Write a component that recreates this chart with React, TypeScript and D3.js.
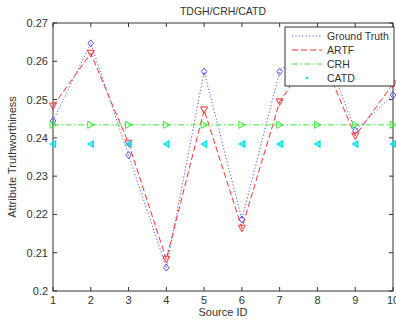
import React from "react";
import * as d3 from "d3";

const sourceIds = [1, 2, 3, 4, 5, 6, 7, 8, 9, 10];
const groundTruth = [0.2444, 0.2647, 0.2355, 0.2061, 0.2573, 0.2187, 0.2573, 0.268, 0.2419, 0.2512];
const artf = [0.2483, 0.2621, 0.2386, 0.2083, 0.2473, 0.2164, 0.2494, 0.264, 0.2405, 0.2541];
const crh = [0.2434, 0.2434, 0.2434, 0.2434, 0.2434, 0.2434, 0.2434, 0.2434, 0.2434, 0.2434];
const catd = [0.2384, 0.2384, 0.2384, 0.2384, 0.2384, 0.2384, 0.2384, 0.2384, 0.2384, 0.2384];
const xTicks = [1, 2, 3, 4, 5, 6, 7, 8, 9, 10];
const yTicks = [0.2, 0.21, 0.22, 0.23, 0.24, 0.25, 0.26, 0.27];
const legendLabels = ["Ground Truth", "ARTF", "CRH", "CATD"];

const W = 396, H = 320;
const L = 53, R = 393, T = 23, B = 291;
const FONT = "'Liberation Sans', Arial, sans-serif";

export default function App() {
  const x = d3.scaleLinear().domain([1, 10]).range([L, R]);
  const y = d3.scaleLinear().domain([0.2, 0.27]).range([B, T]);
  const line = (vals: number[]) =>
    d3.line<number>().x((_, i) => x(sourceIds[i])).y((d) => y(d))(vals) || "";

  const blue = "#5050ff";
  const red = "#ff3030";
  const green = "#33ee33";
  const cyan = "#00e0f0";

  const diamond = (cx: number, cy: number, key: any) => (
    <path key={key} d={`M${cx},${cy - 3.5}L${cx + 2.8},${cy}L${cx},${cy + 3.5}L${cx - 2.8},${cy}Z`} fill="none" stroke={blue} strokeWidth={1} />
  );
  const downTri = (cx: number, cy: number, key: any) => (
    <path key={key} d={`M${cx - 3.5},${cy - 3}L${cx + 3.5},${cy - 3}L${cx},${cy + 3.5}Z`} fill="none" stroke={red} strokeWidth={1} />
  );
  const rightTri = (cx: number, cy: number, key: any) => (
    <path key={key} d={`M${cx - 3},${cy - 3.5}L${cx + 3.5},${cy}L${cx - 3},${cy + 3.5}Z`} fill="none" stroke={green} strokeWidth={1} />
  );
  const leftTri = (cx: number, cy: number, key: any) => (
    <path key={key} d={`M${cx + 2.5},${cy - 3}L${cx - 2.5},${cy}L${cx + 2.5},${cy + 3}Z`} fill={cyan} fillOpacity={0.5} stroke={cyan} strokeWidth={1.4} />
  );

  const lx0 = 285, ly0 = 27, lx1 = 394, ly1 = 86;
  const rowY = [36, 50, 64, 78];

  return (
    <svg width={W} height={H} style={{ display: "block", position: "absolute", left: 0, top: 0 }} fontFamily={FONT}>
      <rect x={0} y={0} width={W} height={H} fill="#fff" />
      {/* ticks */}
      {xTicks.map((t) => (
        <g key={"xt" + t}>
          <line x1={x(t)} x2={x(t)} y1={B} y2={B - 4} stroke="#333" />
          <line x1={x(t)} x2={x(t)} y1={T} y2={T + 4} stroke="#333" />
          <text x={x(t)} y={304} fontSize={11} textAnchor="middle" fill="#333">{t}</text>
        </g>
      ))}
      {yTicks.map((t) => (
        <g key={"yt" + t}>
          <line x1={L} x2={L + 4} y1={y(t)} y2={y(t)} stroke="#333" />
          <line x1={R} x2={R - 4} y1={y(t)} y2={y(t)} stroke="#333" />
          <text x={48} y={y(t) + 4} fontSize={11} textAnchor="end" fill="#333">{d3.format("")(+t.toFixed(2))}</text>
        </g>
      ))}
      <rect x={L} y={T} width={R - L} height={B - T} fill="none" stroke="#333" strokeWidth={1} />

      {/* series */}
      <path d={line(groundTruth)} fill="none" stroke={blue} strokeWidth={1} strokeDasharray="1.2,2.2" />
      <path d={line(artf)} fill="none" stroke={red} strokeWidth={1} strokeDasharray="6,3" />
      <path d={line(crh)} fill="none" stroke={green} strokeWidth={1} strokeDasharray="6,2.5,1.5,2.5" />
      {groundTruth.map((v, i) => diamond(x(sourceIds[i]), y(v), "gd" + i))}
      {artf.map((v, i) => downTri(x(sourceIds[i]), y(v), "ad" + i))}
      {crh.map((v, i) => rightTri(x(sourceIds[i]), y(v), "cd" + i))}
      {catd.map((v, i) => leftTri(x(sourceIds[i]), y(v), "td" + i))}

      {/* legend */}
      <rect x={lx0} y={ly0} width={lx1 - lx0} height={ly1 - ly0} fill="#fff" stroke="#333" strokeWidth={1} />
      <line x1={292} x2={322} y1={rowY[0]} y2={rowY[0]} stroke={blue} strokeDasharray="1.2,2.2" />
      <line x1={292} x2={322} y1={rowY[1]} y2={rowY[1]} stroke={red} strokeDasharray="6,3" />
      <line x1={292} x2={322} y1={rowY[2]} y2={rowY[2]} stroke={green} strokeDasharray="6,2.5,1.5,2.5" />
      <circle cx={307} cy={rowY[3]} r={1.3} fill={cyan} />
      {legendLabels.map((s, i) => (
        <text key={s} x={327} y={rowY[i] + 4} fontSize={10.5} fill="#333">{s}</text>
      ))}

      {/* titles */}
      <text x={(L + R) / 2} y={15} fontSize={10.5} textAnchor="middle" fill="#333">TDGH/CRH/CATD</text>
      <text x={(L + R) / 2} y={316} fontSize={11} textAnchor="middle" fill="#333">Source ID</text>
      <text transform={`translate(16,${(T + B) / 2}) rotate(-90)`} fontSize={11} textAnchor="middle" fill="#333">Attribute Truthworthiness</text>
    </svg>
  );
}
